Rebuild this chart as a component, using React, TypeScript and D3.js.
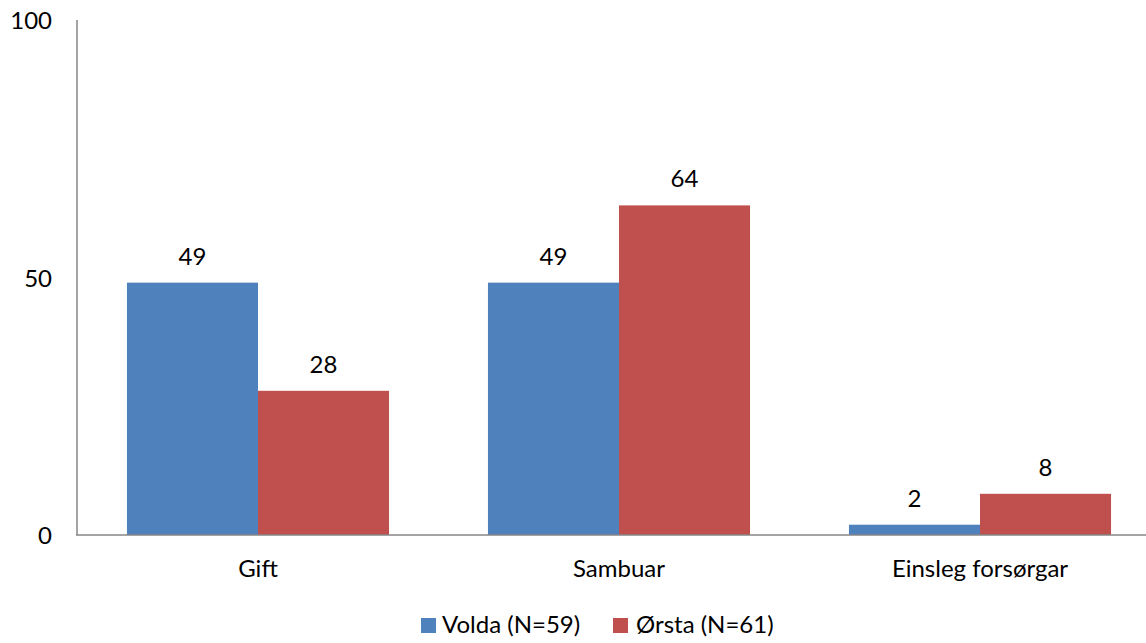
import React from "react";
import * as d3 from "d3";

const categories = ["Gift", "Sambuar", "Einsleg forsørgar"];
const seriesNames = ["Volda (N=59)", "Ørsta (N=61)"];
const volda = [49, 49, 2];
const orsta = [28, 64, 8];
const yTicks = [0, 50, 100];
const colors = ["#4F81BD", "#C0504D"];

const W = 1146;
const H = 643;
const FONT = "Lato, 'Open Sans', sans-serif";
const FS = 24;

export default function App() {
  const x = d3
    .scaleBand<string>()
    .domain(categories)
    .range([77.5, 1160.5])
    .paddingInner(0.274)
    .paddingOuter(0.137);
  const x1 = d3.scaleBand<number>().domain([0, 1]).range([0, x.bandwidth()]);
  const y = d3.scaleLinear().domain([0, 100]).range([535, 20]);
  const series = [volda, orsta];

  return (
    <svg
      width={W}
      height={H}
      style={{ position: "absolute", left: 0, top: 0, background: "#fff" }}
      fontFamily={FONT}
    >
      {categories.map((c, i) =>
        series.map((s, k) => (
          <g key={c + k}>
            <rect
              x={(x(c) as number) + (x1(k) as number)}
              y={y(s[i])}
              width={x1.bandwidth()}
              height={y(0) - y(s[i])}
              fill={colors[k]}
            />
            <text
              x={(x(c) as number) + (x1(k) as number) + x1.bandwidth() / 2}
              y={y(s[i]) - 18}
              textAnchor="middle"
              fontSize={FS}
              fill="#000"
            >
              {s[i]}
            </text>
          </g>
        ))
      )}
      <line x1={77} x2={77} y1={20} y2={535} stroke="#868686" strokeWidth={1.5} />
      <line x1={76} x2={W} y1={535} y2={535} stroke="#868686" strokeWidth={1.5} />
      {yTicks.map((t) => (
        <text key={t} x={52} y={y(t) + 9} textAnchor="end" fontSize={FS} fill="#000">
          {t}
        </text>
      ))}
      {categories.map((c) => (
        <text
          key={c}
          x={(x(c) as number) + x.bandwidth() / 2}
          y={577}
          textAnchor="middle"
          fontSize={FS}
          fill="#000"
        >
          {c}
        </text>
      ))}
      <g>
        <rect x={421} y={618} width={15} height={15} fill={colors[0]} />
        <text x={442} y={633} fontSize={FS} fill="#000">
          {seriesNames[0]}
        </text>
        <rect x={613} y={618} width={15} height={15} fill={colors[1]} />
        <text x={636} y={633} fontSize={FS} fill="#000">
          {seriesNames[1]}
        </text>
      </g>
    </svg>
  );
}
